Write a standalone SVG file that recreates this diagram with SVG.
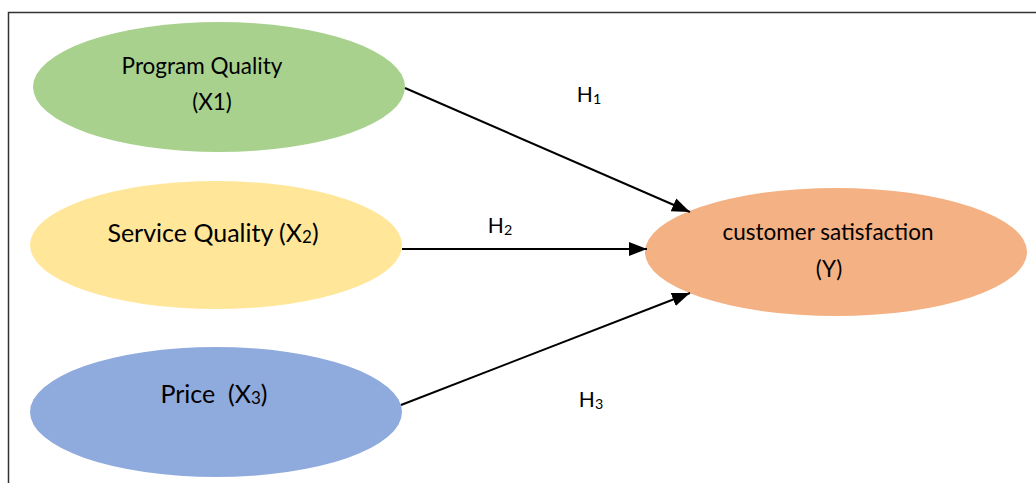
<svg xmlns="http://www.w3.org/2000/svg" width="1036" height="483" viewBox="0 0 1036 483">
<style>
  text { font-family: Lato, "Noto Sans", "DejaVu Sans", sans-serif; fill: #000; text-anchor: middle; }
  .sub { font-size: 0.68em; }
  .conn { stroke: #000; stroke-width: 2; fill: none; }
  .frame { stroke: #333; stroke-width: 1.5; fill: none; }
</style>
<defs>
  <marker id="arr" markerUnits="userSpaceOnUse" markerWidth="20" markerHeight="16" refX="18" refY="7" orient="auto">
    <path d="M0,0 L18,7 L0,14 z" fill="#000"/>
  </marker>
</defs>
<rect width="1036" height="483" fill="#fff"/>
<path class="frame" d="M8.5,484 V12.5 H1037"/>
<g id="node-program-quality">
  <ellipse cx="219" cy="87" rx="186" ry="65" fill="#A9D18E"/>
  <text x="202" y="74" font-size="22.5">Program Quality</text>
  <text x="212" y="110" font-size="22.5">(X1)</text>
</g>
<g id="node-service-quality">
  <ellipse cx="216" cy="245" rx="186" ry="64" fill="#FFE699"/>
  <text x="213" y="242" font-size="25">Service Quality (X<tspan class="sub" dy="1">2</tspan><tspan dy="-1">)</tspan></text>
</g>
<g id="node-price">
  <ellipse cx="216" cy="412" rx="186" ry="65" fill="#8FAADC"/>
  <text x="214" y="403" font-size="25" xml:space="preserve">Price  (X<tspan class="sub" dy="1">3</tspan><tspan dy="-1">)</tspan></text>
</g>
<g id="node-customer-satisfaction">
  <ellipse cx="836" cy="252" rx="191" ry="64" fill="#F4B183"/>
  <text x="828" y="240" font-size="22.5">customer satisfaction</text>
  <text x="829" y="277" font-size="22.5">(Y)</text>
</g>
<g id="connectors">
  <line class="conn" x1="405" y1="88" x2="690" y2="212" marker-end="url(#arr)"/>
  <line class="conn" x1="402" y1="249" x2="647" y2="249" marker-end="url(#arr)"/>
  <line class="conn" x1="401" y1="405" x2="690" y2="293" marker-end="url(#arr)"/>
  <text x="589" y="102" font-size="21">H<tspan class="sub" dy="2">1</tspan></text>
  <text x="500" y="233" font-size="21">H<tspan class="sub" dy="2">2</tspan></text>
  <text x="591" y="407" font-size="21">H<tspan class="sub" dy="2">3</tspan></text>
</g>
</svg>
